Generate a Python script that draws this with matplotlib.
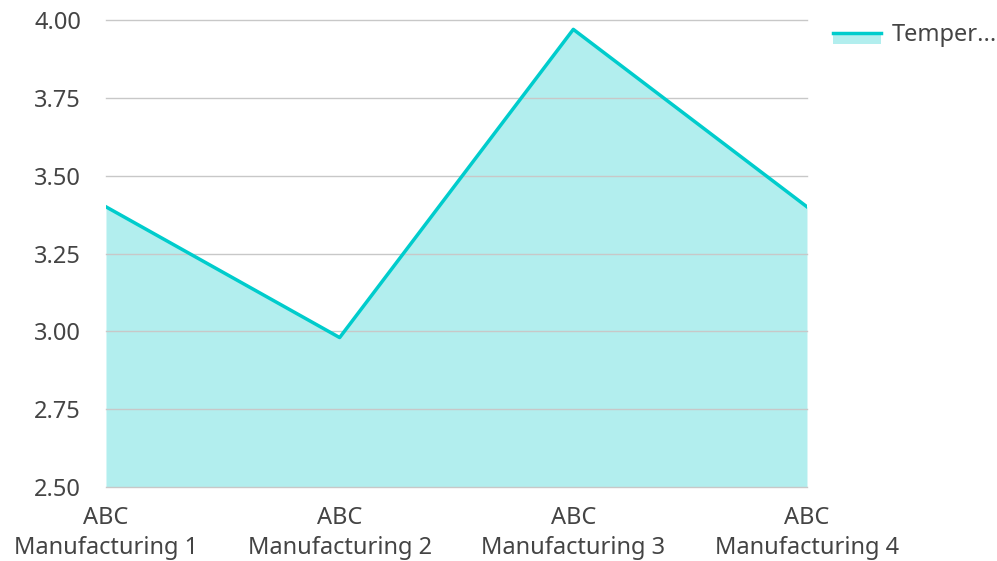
import matplotlib.pyplot as plt
from matplotlib.lines import Line2D
from matplotlib.patches import Patch, Rectangle
from matplotlib.legend_handler import HandlerPatch

plt.rcParams['font.family'] = ['Noto Sans', 'DejaVu Sans']

categories = ['ABC\nManufacturing 1', 'ABC\nManufacturing 2',
              'ABC\nManufacturing 3', 'ABC\nManufacturing 4']
temperature = [3.40, 2.98, 3.97, 3.40]
yticks = [2.50, 2.75, 3.00, 3.25, 3.50, 3.75, 4.00]

line_color = '#00cccc'
fill_color = '#b2eeee'


def lower_half(legend, orig_handle, xdescent, ydescent, width, height, fontsize):
    # area swatch sits under the line, like the original legend
    return Rectangle((-xdescent, -ydescent - height * 0.15), width, height * 0.65)


fig = plt.figure(figsize=(9.97, 5.61), dpi=100)
ax = fig.add_axes([0.1063, 0.1319, 0.7031, 0.8324])

x = list(range(len(categories)))
ax.fill_between(x, 2.5, temperature, color=fill_color, linewidth=0, zorder=1)
ax.plot(x, temperature, color=line_color, linewidth=2.5, zorder=3)

ax.set_xlim(0, len(categories) - 1)
ax.set_ylim(2.5, 4.0)
ax.set_yticks(yticks)
ax.set_yticklabels([f'{v:.2f}' for v in yticks])
ax.set_xticks(x)
ax.set_xticklabels(categories, linespacing=1.3)
ax.grid(axis='y', color='#c8c8c8', linewidth=1, zorder=2)
for gl in ax.get_ygridlines():
    gl.set_clip_on(False)
ax.set_axisbelow(False)
for s in ax.spines.values():
    s.set_visible(False)
ax.tick_params(length=0, labelsize=17, colors='#444444')
ax.tick_params(axis='y', pad=18)
ax.tick_params(axis='x', pad=14)

handle = (Patch(facecolor=fill_color, edgecolor='none'),
          Line2D([], [], color=line_color, linewidth=2.5))
leg = fig.legend([handle], ['Temper...'], loc='upper left',
                 bbox_to_anchor=(0.814, 0.996), frameon=False,
                 fontsize=17, handlelength=2.05, handletextpad=0.45,
                 handler_map={Patch: HandlerPatch(patch_func=lower_half)})
for t in leg.get_texts():
    t.set_color('#444444')

fig.savefig('out.png', dpi=100)
